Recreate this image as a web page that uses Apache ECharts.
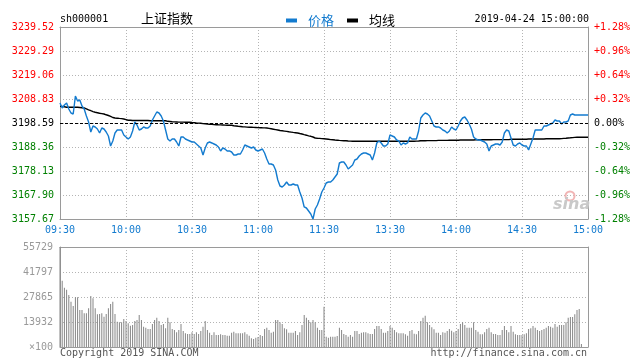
<!DOCTYPE html>
<html><head><meta charset="utf-8">
<script src="https://cdn.jsdelivr.net/npm/echarts@6/dist/echarts.min.js"></script>
<style>html,body{margin:0;padding:0;background:#fff}#c{width:640px;height:364px}</style>
</head><body><div id="c"></div>
<script>
const timeLabels = ['09:30','10:00','10:30','11:00','11:30','13:30','14:00','14:30','15:00'];
const priceTicks = ['3157.67','3167.90','3178.13','3188.36','3198.59','3208.83','3219.06','3229.29','3239.52'];
const pctTicks = ['-1.28%','-0.96%','-0.64%','-0.32%','0.00%','+0.32%','+0.64%','+0.96%','+1.28%'];
const volTicks = ['\u00d7100','13932','27865','41797','55729'];
const prevClose = 3198.59;

const price = [
3207.12,3204.98,3206.26,3207.12,3204.56,3202.85,3202.43,3210.10,3207.97,3208.39,
3205.84,3204.56,3201.57,3199.02,3194.75,3197.31,3196.89,3196.03,3194.33,3196.46,
3196.03,3194.75,3193.05,3188.79,3190.92,3194.33,3195.61,3195.61,3195.61,3193.48,
3192.62,3191.77,3192.62,3195.18,3199.02,3197.74,3195.61,3196.03,3196.89,3196.46,
3196.46,3197.31,3199.87,3201.57,3203.28,3202.85,3201.57,3199.44,3195.61,3191.77,
3190.92,3191.77,3191.77,3190.49,3188.79,3192.62,3192.62,3191.77,3191.34,3190.92,
3190.49,3190.49,3189.64,3188.79,3187.93,3184.95,3187.93,3190.07,3190.49,3190.07,
3189.64,3189.21,3188.36,3186.66,3187.93,3187.51,3186.66,3186.66,3186.23,3184.95,
3184.95,3185.38,3185.38,3187.08,3189.21,3188.79,3188.36,3187.93,3188.36,3187.08,
3186.66,3187.08,3187.51,3185.80,3183.24,3181.11,3181.11,3180.69,3178.56,3174.29,
3171.74,3171.31,3172.16,3173.44,3172.16,3172.16,3172.59,3172.16,3172.16,3169.18,
3166.62,3162.79,3162.36,3161.08,3159.80,3157.67,3161.93,3163.64,3166.20,3169.18,
3170.88,3173.02,3173.44,3173.44,3174.29,3175.57,3176.85,3181.54,3181.97,3181.97,
3180.69,3178.98,3179.84,3180.69,3182.82,3183.24,3184.52,3185.38,3185.80,3185.80,
3185.38,3184.95,3182.82,3185.80,3190.07,3190.92,3190.07,3188.79,3188.79,3189.64,
3193.48,3193.05,3192.62,3191.34,3190.92,3189.21,3190.07,3189.64,3190.07,3192.62,
3191.77,3191.77,3191.77,3195.18,3200.72,3202.00,3202.85,3202.43,3201.57,3199.44,
3197.31,3196.89,3196.89,3196.46,3195.61,3195.18,3194.33,3195.18,3196.89,3196.03,
3195.61,3197.31,3199.44,3200.72,3201.15,3199.87,3198.16,3196.03,3192.62,3191.77,
3191.34,3191.34,3190.92,3190.49,3189.64,3186.66,3188.79,3189.21,3189.64,3189.64,
3189.21,3190.49,3194.33,3195.61,3195.18,3192.20,3189.21,3188.79,3189.64,3190.07,
3189.21,3188.79,3188.79,3187.08,3189.64,3192.20,3195.61,3195.61,3195.61,3195.61,
3197.31,3197.31,3197.74,3198.16,3198.59,3199.87,3199.44,3199.44,3198.16,3199.02,
3199.02,3199.44,3202.00,3202.43,3202.00,3202.00,3202.00,3202.00,3202.00,3202.00,
3202.00
];

const avgLine = [
3205.71,3205.62,3205.50,3205.28,3205.28,3205.28,3205.28,3205.28,3205.28,3205.20,
3205.11,3204.98,3204.64,3204.22,3203.83,3203.45,3203.19,3202.98,3202.77,3202.60,
3202.43,3202.09,3201.79,3201.45,3200.93,3200.72,3200.64,3200.55,3200.47,3200.30,
3200.04,3199.78,3199.74,3199.66,3199.66,3199.66,3199.66,3199.66,3199.66,3199.66,
3199.66,3199.57,3199.57,3199.57,3199.57,3199.57,3199.57,3199.57,3199.57,3199.31,
3199.23,3199.14,3199.06,3199.02,3198.97,3198.97,3198.97,3198.89,3198.89,3198.89,
3198.80,3198.72,3198.63,3198.55,3198.46,3198.33,3198.25,3198.16,3198.08,3197.99,
3197.91,3197.87,3197.82,3197.78,3197.74,3197.70,3197.65,3197.61,3197.61,3197.40,
3197.31,3197.18,3197.10,3197.01,3196.93,3196.84,3196.76,3196.76,3196.71,3196.67,
3196.63,3196.59,3196.54,3196.50,3196.46,3196.29,3196.12,3195.95,3195.78,3195.61,
3195.39,3195.27,3195.14,3195.01,3194.84,3194.71,3194.58,3194.46,3194.33,3194.11,
3193.90,3193.64,3193.39,3193.13,3192.92,3192.62,3192.20,3192.11,3192.03,3191.94,
3191.90,3191.77,3191.64,3191.51,3191.43,3191.34,3191.26,3191.17,3191.09,3191.04,
3191.00,3190.92,3190.87,3190.83,3190.79,3190.79,3190.79,3190.79,3190.79,3190.79,
3190.79,3190.79,3190.79,3190.79,3190.79,3190.79,3190.79,3190.79,3190.79,3190.79,
3190.79,3190.79,3190.79,3190.79,3190.79,3190.79,3190.79,3190.79,3190.79,3190.79,
3190.79,3190.83,3190.87,3190.92,3191.00,3191.04,3191.04,3191.09,3191.09,3191.09,
3191.09,3191.09,3191.17,3191.17,3191.17,3191.17,3191.17,3191.26,3191.26,3191.26,
3191.26,3191.26,3191.34,3191.34,3191.34,3191.34,3191.34,3191.34,3191.34,3191.43,
3191.43,3191.43,3191.43,3191.43,3191.43,3191.43,3191.43,3191.51,3191.51,3191.51,
3191.51,3191.51,3191.51,3191.51,3191.51,3191.64,3191.64,3191.64,3191.64,3191.64,
3191.64,3191.64,3191.64,3191.77,3191.77,3191.77,3191.77,3191.77,3191.77,3191.77,
3191.77,3191.90,3191.90,3191.90,3191.90,3191.90,3191.90,3191.90,3191.94,3192.03,
3192.11,3192.20,3192.28,3192.37,3192.45,3192.49,3192.49,3192.49,3192.49,3192.49,
3192.49
];

const volume = [
55729,36950,33050,31930,28980,25250,22850,27700,27700,20620,
20620,18780,18780,21570,28420,27140,21570,18220,18400,18780,
16890,18400,21570,23960,25250,18400,14100,13760,13760,15600,
14490,13210,11870,12260,14490,15050,17830,15050,11310,10760,
10030,10030,12820,15050,16330,14490,12260,12820,10420,16330,
13760,10030,9470,8190,9470,12820,8920,7630,7240,7240,
8190,7240,8190,7240,8920,11310,14490,9470,7970,6690,
8190,6690,6690,7050,6690,6690,6300,6300,7970,8530,
7620,7620,7620,7620,8170,7060,6310,4830,4460,5200,
5570,6690,6130,10030,10770,9470,7990,8540,15050,15050,
13750,12820,10400,9850,7990,7990,7990,8920,6690,8170,
12260,17830,16350,15050,13750,15050,13750,10770,9470,9470,
22480,5760,5200,5760,5760,5760,6130,10770,9470,7240,
6690,5760,6690,5760,8920,8920,7240,7990,8170,8170,
7620,7240,7240,10030,11700,11700,10030,7990,7990,8920,
11700,10770,9470,8170,7620,7620,7620,7060,6310,8920,
9470,7430,7060,8920,14490,16350,17460,13750,12260,10960,
9850,7990,7990,6690,8170,7990,8920,10030,9100,8170,
8920,10030,12820,13750,12260,10770,10770,10770,13750,9470,
8540,7060,7060,8170,10030,10770,8170,7240,7240,6690,
6690,9470,11700,9470,8170,11700,8540,7060,6690,6690,
6690,7060,7620,10030,10400,11700,10770,9470,8920,9470,
10030,10770,11700,11330,10770,12820,11330,12260,12260,12260,
13750,16350,16720,16720,18210,20620,21180,1670,0,0,
0
];

const BLUE = '#137bcf';
const RED = '#ff0000';
const GREEN = '#008000';
const MONO = '"DejaVu Sans Mono", monospace';
const GRIDC = '#b4b4b4';
const BORDER = '#9a9a9a';

function tickColor(i){ return i < 4 ? GREEN : (i === 4 ? '#000' : RED); }

const chart = echarts.init(document.getElementById('c'), null, {renderer:'canvas'});

const dotted = {show:true, lineStyle:{color:GRIDC, type:[1,2], width:1}};
const border = {show:true, onZero:false, lineStyle:{color:BORDER, width:1}};

chart.setOption({
  animation:false,
  backgroundColor:'#fff',
  legend:{
    left:281, top:9, icon:'rect', itemWidth:11, itemHeight:4, itemGap:13,
    selectedMode:false,
    textStyle:{fontSize:13, fontFamily:'"Noto Sans CJK SC"', padding:[0,0,0,6]},
    data:[{name:'价格', textStyle:{color:BLUE}},{name:'均线', textStyle:{color:'#000'}}]
  },
  grid:[
    {left:60, top:27, width:528, height:192},
    {left:60, top:247, width:528, height:100}
  ],
  xAxis:[
    {gridIndex:0, type:'value', min:0, max:240, interval:30, position:'bottom',
     axisLine:border, axisTick:{show:false}, splitLine:dotted,
     axisLabel:{color:BLUE, fontFamily:MONO, fontSize:10, margin:6,
       formatter:function(v, i){ return timeLabels[Math.round(v/30)]; }}},
    {gridIndex:0, type:'value', min:0, max:240, position:'top',
     axisLine:border, axisTick:{show:false}, splitLine:{show:false}, axisLabel:{show:false}},
    {gridIndex:1, type:'value', min:0, max:240, interval:30, position:'bottom',
     axisLine:border, axisTick:{show:false}, splitLine:dotted, axisLabel:{show:false}},
    {gridIndex:1, type:'value', min:0, max:240, position:'top',
     axisLine:border, axisTick:{show:false}, splitLine:{show:false}, axisLabel:{show:false}}
  ],
  yAxis:[
    {gridIndex:0, type:'value', min:3157.67, max:3239.51, interval:10.23, position:'left',
     axisLine:border, axisTick:{show:false}, splitLine:dotted,
     axisLabel:{fontFamily:MONO, fontSize:10, margin:6,
       formatter:function(v, i){ return priceTicks[i]; },
       color:function(v, i){ return tickColor(i); }}},
    {gridIndex:0, type:'value', min:-1.28, max:1.28, interval:0.32, position:'right',
     axisLine:border, axisTick:{show:false}, splitLine:{show:false},
     axisLabel:{fontFamily:MONO, fontSize:10, margin:6,
       formatter:function(v, i){ return pctTicks[i]; },
       color:function(v, i){ return tickColor(i); }}},
    {gridIndex:1, type:'value', min:0, max:55729, interval:13932.25, position:'left',
     axisLine:border, axisTick:{show:false}, splitLine:dotted,
     axisLabel:{fontFamily:MONO, fontSize:10, margin:7, color:'#999',
       formatter:function(v, i){ return volTicks[i]; }}},
    {gridIndex:1, type:'value', min:0, max:55729, position:'right',
     axisLine:border, axisTick:{show:false}, splitLine:{show:false}, axisLabel:{show:false}}
  ],
  series:[
    {name:'价格', type:'line', xAxisIndex:0, yAxisIndex:0, showSymbol:false, symbol:'none',
     data:price.map(function(v,i){return [i,v];}),
     lineStyle:{color:BLUE, width:1.4}, itemStyle:{color:BLUE}, z:4,
     markLine:{silent:true, symbol:'none', label:{show:false},
       lineStyle:{color:'#000', type:[3,2], width:1},
       data:[{yAxis:prevClose}]}},
    {name:'均线', type:'line', xAxisIndex:0, yAxisIndex:0, showSymbol:false, symbol:'none',
     data:avgLine.map(function(v,i){return [i,v];}),
     lineStyle:{color:'#000', width:1.4}, itemStyle:{color:'#000'}, z:3},
    {name:'成交量', type:'bar', xAxisIndex:2, yAxisIndex:2, barWidth:1,
     data:volume.map(function(v,i){return [i,v];}),
     itemStyle:{color:'#858585'}}
  ],
  graphic:[
    {type:'text', left:60, top:14, style:{text:'sh000001', font:'10px '+MONO, fill:'#000'}},
    {type:'text', left:141, top:12, style:{text:'上证指数', font:'13px "Noto Sans CJK SC"', fill:'#000'}},
    {type:'text', right:51, top:14, style:{text:'2019-04-24 15:00:00', font:'10px '+MONO, fill:'#000'}},
    {type:'text', left:60, top:348, style:{text:'Copyright 2019 SINA.COM', font:'10px '+MONO, fill:'#555'}},
    {type:'text', right:53, top:348, style:{text:'http://finance.sina.com.cn', font:'10px '+MONO, fill:'#555'}},
    {type:'circle', shape:{cx:570, cy:196, r:4.5}, style:{fill:'none', stroke:'#f2b5b5', lineWidth:2}, z:1},
    {type:'text', left:553, top:197, style:{text:'sina', font:'italic bold 16px "DejaVu Sans"', fill:'#c9c9c9'}, z:1}
  ]
});
</script></body></html>
